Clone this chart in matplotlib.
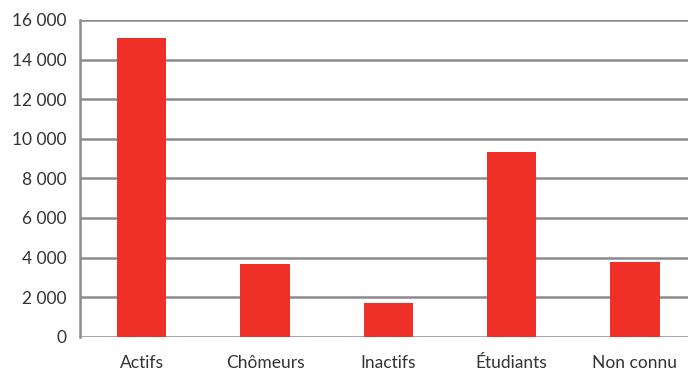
import matplotlib.pyplot as plt
from matplotlib.ticker import FuncFormatter

categories = ['Actifs', 'Chômeurs', 'Inactifs', 'Étudiants', 'Non connu']
values = [15100, 3670, 1700, 9320, 3760]
yticks = [0, 2000, 4000, 6000, 8000, 10000, 12000, 14000, 16000]

plt.rcParams['font.family'] = ['Lato', 'DejaVu Sans']

fig = plt.figure(figsize=(6.88, 3.7), dpi=100)
ax = fig.add_axes([0.1163, 0.09, 0.8837, 0.856])

x = range(len(categories))
ax.bar(x, values, width=0.4, color='#ee3029', zorder=3)

ax.set_ylim(0, 16000)
ax.set_xlim(-0.5, 4.43)
ax.set_yticks(yticks)
ax.yaxis.set_major_formatter(FuncFormatter(lambda v, p: f'{int(v):,}'.replace(',', ' ')))
ax.set_xticks(list(x))
ax.set_xticklabels(categories)

ax.grid(axis='y', color='#8b8b90', linewidth=1.8, zorder=0)
for s in ['top', 'right', 'bottom']:
    ax.spines[s].set_visible(False)
ax.spines['left'].set_color('#8b8b90')
ax.spines['left'].set_linewidth(1.8)
ax.tick_params(length=0, labelsize=12.5, colors='#333333')
ax.tick_params(axis='y', pad=10)
ax.tick_params(axis='x', pad=13)

fig.savefig('out.png', dpi=100)
